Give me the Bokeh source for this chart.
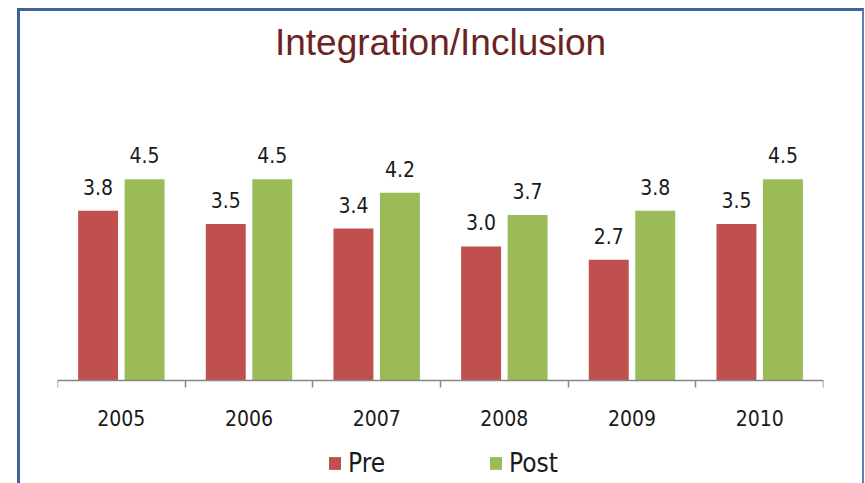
from bokeh.plotting import figure
from bokeh.models import ColumnDataSource, Range1d, FixedTicker, Legend, LegendItem, Label
from bokeh.core.properties import value
from bokeh.embed import file_html
from bokeh.resources import INLINE

title_text = "Integration/Inclusion"
years = ["2005", "2006", "2007", "2008", "2009", "2010"]
pre = [3.8, 3.5, 3.4, 3.0, 2.7, 3.5]
post = [4.5, 4.5, 4.2, 3.7, 3.8, 4.5]
series_names = ["Pre", "Post"]

RED = "#C0504D"
GREEN = "#9BBB59"
NARROW = "DejaVu Sans Condensed"

idx = list(range(len(years)))
off = 0.182
bw = 0.313
src_pre = ColumnDataSource(dict(x=[i + 0.5 - off for i in idx], top=pre,
                                lab=["%.1f" % v for v in pre]))
src_post = ColumnDataSource(dict(x=[i + 0.5 + off for i in idx], top=post,
                                 lab=["%.1f" % v for v in post]))

# frame spans the whole bordered box; value 0 sits at the axis line
p = figure(frame_width=766, frame_height=472, output_backend="svg", toolbar_location=None,
           x_range=Range1d(0, len(years)), y_range=Range1d(-2.304, 8.255),
           min_border_left=37, min_border_right=39, min_border_top=0,
           min_border_bottom=0)
p.styles = {"border-top": "3px solid #3F6397", "border-left": "3px solid #3F6397",
            "border-right": "2px solid #5B7FAE", "margin-left": "17px", "margin-top": "8px"}

p.add_layout(Label(x=len(years) / 2, y=7.56, text=title_text, text_align="center",
                   text_baseline="alphabetic", text_font="Liberation Sans",
                   text_font_size="37px", text_color="#6B2421"))

r_pre = p.vbar(x="x", top="top", bottom=0, width=bw, source=src_pre, fill_color=RED, line_color=None)
r_post = p.vbar(x="x", top="top", bottom=0, width=bw, source=src_post, fill_color=GREEN, line_color=None)

for s in (src_pre, src_post):
    p.text(x="x", y="top", text="lab", source=s, text_align="center",
           text_baseline="alphabetic", y_offset=-24, text_font=value(NARROW),
           text_font_size="21px", text_color="#1A1A1A")

p.grid.visible = False
p.yaxis.visible = False
p.outline_line_color = None

ax = p.xaxis[0]
ax.fixed_location = 0
ax.ticker = FixedTicker(ticks=[i + 0.5 for i in idx], minor_ticks=list(range(len(years) + 1)))
ax.major_label_overrides = {i + 0.5: y for i, y in zip(idx, years)}
ax.major_tick_line_color = None
ax.minor_tick_line_color = "#868686"
ax.minor_tick_line_width = 1.5
ax.minor_tick_in = 0
ax.minor_tick_out = 7
ax.axis_line_color = "#868686"
ax.axis_line_width = 1.5
ax.major_label_text_font = NARROW
ax.major_label_text_font_size = "21px"
ax.major_label_text_color = "#1A1A1A"
ax.major_label_standoff = 22

legend = Legend(items=[LegendItem(label=series_names[0], renderers=[r_pre]),
                       LegendItem(label=series_names[1], renderers=[r_post])],
                orientation="horizontal", location=(270, 5),
                glyph_width=15, glyph_height=16, label_standoff=6, spacing=103,
                label_height=30, padding=0, margin=0, border_line_color=None,
                background_fill_alpha=0,
                label_text_font=NARROW, label_text_font_size="26px",
                label_text_color="#1A1A1A")
p.add_layout(legend, "center")

open("out.html", "w").write(file_html(p, INLINE))
